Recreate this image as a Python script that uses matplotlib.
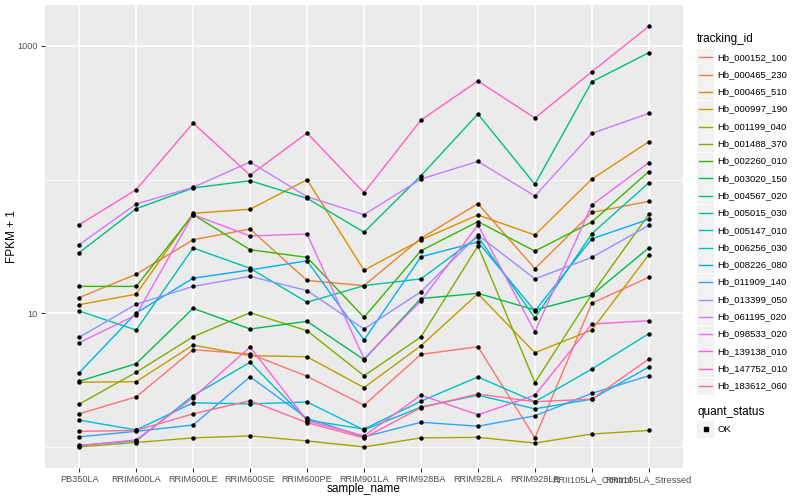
import matplotlib
matplotlib.use("Agg")
import matplotlib.pyplot as plt
from matplotlib.ticker import FixedLocator, NullFormatter
from matplotlib.patches import Rectangle
from matplotlib.lines import Line2D

plt.rcParams['font.family'] = ['Liberation Sans', 'DejaVu Sans']

samples = ["PB350LA", "RRIM600LA", "RRIM600LE", "RRIM600SE", "RRIM600PE",
           "RRIM901LA", "RRIM928BA", "RRIM928LA", "RRIM928LE",
           "RRII105LA_Control", "RRII105LA_Stressed"]

tracking_ids = ["Hb_000152_100", "Hb_000465_230", "Hb_000465_510", "Hb_000997_190",
                "Hb_001199_040", "Hb_001488_370", "Hb_002260_010", "Hb_003020_150",
                "Hb_004567_020", "Hb_005015_030", "Hb_005147_010", "Hb_006256_030",
                "Hb_008226_080", "Hb_011909_140", "Hb_013399_050", "Hb_061195_020",
                "Hb_098533_020", "Hb_139138_010", "Hb_147752_010", "Hb_183612_060"]

colors = ["#F8766D", "#EA8331", "#D89000", "#C09B00", "#A3A500", "#7CAE00",
          "#39B600", "#00BB4E", "#00BF7D", "#00C1A3", "#00BFC4", "#00BAE0",
          "#00B0F6", "#35A2FF", "#9590FF", "#C77CFF", "#E76BF3", "#FA62DB",
          "#FF62BC", "#FF6C91"]

# FPKM + 1 values per tracking id, in sample order
Hb_000152_100 = [1.77, 2.37, 5.34, 4.96, 3.38, 2.05, 4.93, 5.62, 1.17, 11.9, 18.6]
Hb_000465_230 = [13.1, 19.6, 35.5, 42.7, 17.6, 16.1, 36.4, 66.1, 21.6, 56.8, 68.9]
Hb_000465_510 = [11.6, 13.9, 56.0, 60.0, 99.9, 21.0, 35.4, 54.4, 38.5, 101, 192]
Hb_000997_190 = [3.05, 3.08, 5.79, 4.82, 4.73, 2.78, 5.72, 14.0, 5.07, 7.50, 27.4]
Hb_001199_040 = [1.00, 1.08, 1.17, 1.21, 1.11, 1.00, 1.17, 1.18, 1.07, 1.25, 1.33]
Hb_001488_370 = [2.09, 3.62, 6.68, 10.1, 7.41, 3.41, 6.65, 31.9, 3.03, 13.9, 55.0]
Hb_002260_010 = [15.9, 15.9, 54.7, 29.9, 26.2, 9.33, 29.4, 48.5, 29.2, 48.2, 115]
Hb_003020_150 = [3.10, 4.20, 10.9, 7.63, 8.71, 4.50, 12.9, 14.1, 10.6, 13.7, 30.9]
Hb_004567_020 = [28.4, 60.6, 86.6, 98.2, 72.5, 40.4, 107, 310, 92.3, 540, 891]
Hb_005015_030 = [10.4, 7.50, 30.8, 21.7, 12.1, 16.1, 18.1, 37.5, 9.22, 39.4, 94.8]
Hb_005147_010 = [1.03, 1.11, 2.42, 4.30, 1.59, 1.36, 2.20, 3.34, 2.18, 3.83, 7.04]
Hb_006256_030 = [1.59, 1.34, 2.14, 2.10, 2.17, 1.34, 1.99, 2.44, 1.93, 2.28, 3.97]
Hb_008226_080 = [3.59, 10.05, 18.3, 21.1, 24.7, 6.31, 26.5, 34.2, 10.4, 36.1, 50.5]
Hb_011909_140 = [1.19, 1.31, 1.46, 3.35, 1.64, 1.19, 1.53, 1.43, 1.71, 2.52, 3.41]
Hb_013399_050 = [6.61, 11.7, 15.9, 18.9, 14.8, 7.63, 14.5, 38.5, 18.1, 26.2, 45.5]
Hb_061195_020 = [32.6, 65.7, 87.6, 135.5, 74.5, 54.7, 101, 137, 75.4, 222, 313]
Hb_098533_020 = [6.03, 9.71, 54.7, 37.9, 39.2, 4.57, 12.4, 45.8, 7.28, 64.6, 134]
Hb_139138_010 = [1.02, 1.13, 2.34, 5.60, 1.57, 1.21, 2.44, 1.74, 2.44, 8.32, 8.80]
Hb_147752_010 = [46.0, 84.1, 265, 108, 223, 79.8, 279, 547, 289, 642, 1403]
Hb_183612_060 = [1.31, 1.33, 1.77, 2.22, 1.52, 1.17, 1.97, 2.49, 2.18, 2.28, 4.55]

series = [Hb_000152_100, Hb_000465_230, Hb_000465_510, Hb_000997_190, Hb_001199_040,
          Hb_001488_370, Hb_002260_010, Hb_003020_150, Hb_004567_020, Hb_005015_030,
          Hb_005147_010, Hb_006256_030, Hb_008226_080, Hb_011909_140, Hb_013399_050,
          Hb_061195_020, Hb_098533_020, Hb_139138_010, Hb_147752_010, Hb_183612_060]

W, H = 800, 500
fig = plt.figure(figsize=(8, 5), dpi=100)
fig.patch.set_facecolor('white')

pl, pr, pt, pb = 45, 683, 5, 468
ax = fig.add_axes([pl / W, 1 - pb / H, (pr - pl) / W, (pb - pt) / H])
ax.set_facecolor('#EBEBEB')
for s in ax.spines.values():
    s.set_visible(False)

x = list(range(len(samples)))
for vals, col in zip(series, colors):
    ax.plot(x, vals, color=col, lw=1.0, zorder=2, solid_capstyle='butt')
for vals in series:
    ax.plot(x, vals, linestyle='none', marker='o', ms=3.2, mew=0, color='black', zorder=3)

ax.set_yscale('log')
ax.set_ylim(10 ** -0.1573, 10 ** 3.3065)
ax.set_xlim(-0.6, len(samples) - 1 + 0.6)
ax.yaxis.set_major_locator(FixedLocator([10, 1000]))
ax.yaxis.set_minor_locator(FixedLocator([1, 100]))
ax.yaxis.set_minor_formatter(NullFormatter())
ax.set_yticklabels(["10", "1000"])
ax.set_xticks(x)
ax.set_xticklabels(samples)
ax.grid(which='major', color='white', lw=1.1)
ax.grid(which='minor', axis='y', color='white', lw=0.55)
ax.set_axisbelow(True)
ax.tick_params(which='major', length=3, width=0.8, color='#333333',
               labelcolor='#4D4D4D', labelsize=6.6, pad=2)
ax.tick_params(which='minor', length=0)

fig.text(364 / W, 1 - 489 / H, 'sample_name', ha='center', va='center', fontsize=8.5)
fig.text(12 / W, 1 - 236.5 / H, 'FPKM + 1', ha='center', va='center',
         rotation=90, fontsize=8.5)

# legend
lax = fig.add_axes([0, 0, 1, 1], facecolor='none')
lax.set_xlim(0, W)
lax.set_ylim(H, 0)
lax.axis('off')
lax.text(697, 39, 'tracking_id', ha='left', va='center', fontsize=8.5)
for i, (tid, col) in enumerate(zip(tracking_ids, colors)):
    yc = 57.3 + i * 17.3
    lax.add_patch(Rectangle((697, yc - 8.5), 17, 17, facecolor='#F2F2F2', edgecolor='none'))
    lax.add_line(Line2D([699, 712], [yc, yc], color=col, lw=1.0))
    lax.text(717, yc, tid, ha='left', va='center', fontsize=6.8)
lax.text(697, 412, 'quant_status', ha='left', va='center', fontsize=8.5)
lax.add_patch(Rectangle((697, 429 - 8.5), 17, 17, facecolor='#F2F2F2', edgecolor='none'))
lax.add_line(Line2D([705.5], [429], marker='s', ms=2.6, color='black', linestyle='none'))
lax.text(717, 429, 'OK', ha='left', va='center', fontsize=6.8)

fig.savefig('out.png', dpi=100)
